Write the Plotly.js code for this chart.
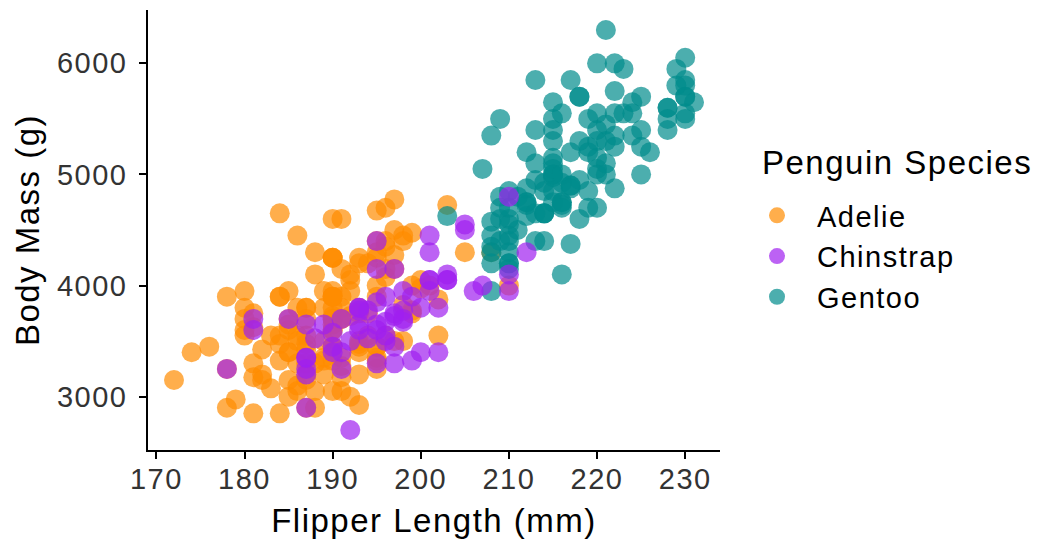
<!DOCTYPE html>
<html>
<head>
<meta charset="utf-8">
<script src="https://cdn.plot.ly/plotly-3.0.1.min.js"></script>
<style>
  html, body { margin: 0; padding: 0; background: #fff; }
  #chart { width: 1041px; height: 543px; }
  text { letter-spacing: 1.5px; }
</style>
</head>
<body>
<div id="chart"></div>
<script>
// Palmer penguins: flipper length (mm) and body mass (g)
const adelieFlipper = [181,186,195,193,190,181,195,193,190,186,180,182,191,198,185,195,197,184,194,174,180,189,185,180,187,183,187,172,180,178,178,188,184,195,196,190,180,181,184,182,195,186,196,185,190,182,179,190,191,186,188,190,200,187,191,186,193,181,194,185,195,185,192,184,192,195,188,190,198,190,190,196,197,190,195,191,184,187,195,189,196,187,193,191,194,190,189,189,190,202,205,185,186,187,208,190,196,178,192,192,203,183,190,193,184,199,190,181,197,198,191,193,197,191,196,188,199,189,189,187,198,176,202,186,199,191,195,191,210,190,197,193,199,187,190,191,200,185,193,193,187,188,190,192,185,190,184,195,193,187,201];
const adelieMass = [3750,3800,3250,3450,3650,3625,4675,3475,4250,3300,3700,3200,3800,4400,3700,3450,4500,3325,4200,3400,3600,3800,3950,3800,3800,3550,3200,3150,3950,3250,3900,3300,3900,3325,4150,3950,3550,3300,4650,3150,3900,3100,4400,3000,4600,3425,2975,3450,4150,3500,4300,3450,4050,2900,3700,3550,3800,2850,3750,3150,4400,3600,4050,2850,3950,3350,4100,3050,4450,3600,3900,3550,4150,3700,4250,3700,3900,3550,4000,3200,4700,3800,4200,3350,3550,3800,3500,3950,3600,3550,4300,3400,4450,3300,4300,3700,4350,2900,4100,3725,4725,3075,4250,2925,3550,3750,3900,3175,4775,3825,4600,3200,4275,3900,4075,2900,3775,3350,3325,3150,3500,3450,3875,3050,4000,3275,4300,3050,4000,3325,3500,3500,4475,3425,3900,3175,3975,3400,4250,3400,3475,3050,3725,3000,3650,4250,3475,3450,3750,3700,4000];

const gentooFlipper = [211,230,210,218,215,210,211,219,209,215,214,216,214,213,210,217,210,221,209,222,218,215,213,215,215,215,216,215,210,220,222,209,207,230,220,220,213,219,208,208,208,225,210,216,222,217,210,225,213,215,210,220,210,225,217,220,208,220,208,224,208,221,214,231,219,230,214,229,220,223,216,221,221,217,216,230,209,220,215,223,212,221,212,224,212,228,218,218,212,230,218,228,212,224,214,226,216,222,203,225,219,228,215,228,216,215,210,219,208,209,216,229,213,230,217,230,217,222,214,215,222,212,213];
const gentooMass = [4500,5700,4450,5700,5400,4550,4800,5200,4400,5150,4650,5550,4650,5850,4200,5850,4150,6300,4800,5350,5700,5000,4400,5050,5000,5100,4100,5650,4600,5550,5250,4700,5050,6050,5150,5400,4950,5250,4350,5350,3950,5700,4300,4750,5550,4900,4200,5400,5100,5300,4850,5300,4400,5000,4900,5050,4300,5000,4450,5550,4200,5300,4400,5650,4700,5700,4650,5800,4700,5550,4750,5000,5100,5200,4700,5800,4600,6000,4750,5950,4625,5450,4725,5350,4750,5600,4600,5300,4875,5550,4950,5400,4750,5650,4850,5200,4925,4875,4625,5250,4850,5600,4975,5500,4725,5500,4700,5500,4575,5500,5000,5950,4650,5500,4375,5850,4875,6000,4925,4850,5750,5200,5400];

const chinstrapFlipper = [192,196,193,188,197,198,178,197,195,198,193,194,185,201,190,201,197,181,190,195,181,191,187,193,195,197,200,200,191,205,187,201,187,203,195,199,195,210,192,205,210,187,196,196,196,201,190,212,187,198,199,201,193,203,187,197,191,203,202,194,206,189,195,207,202,193,210,198];
const chinstrapMass = [3500,3900,3650,3525,3725,3950,3250,3750,4150,3700,3800,3775,3700,4050,3575,4050,3300,3700,3450,4400,3600,3400,2900,3800,3300,4150,3400,3800,3700,4550,3200,4300,3350,4100,3600,3900,3850,4800,2700,4500,3950,3650,3550,3500,3675,4450,3400,4300,3250,3675,3325,3950,3600,4050,3350,3450,3250,4050,3800,3525,3950,3650,3650,4000,3400,3775,4100,3775];

const speciesNames = ["Adelie", "Chinstrap", "Gentoo"];
const speciesColors = ["#FF8C00", "#A020F0", "#008B8B"];
const legendTitle = "Penguin Species";
const xTicks = [170, 180, 190, 200, 210, 220, 230];
const yTicks = [3000, 4000, 5000, 6000];

const FONT = "'Liberation Sans', Arial, Helvetica, sans-serif";
const TICK_COLOR = "#333333";

function makeTrace(name, color, xs, ys, rank) {
  return {
    type: "scatter", mode: "markers", name: name,
    x: xs, y: ys, legendrank: rank,
    marker: { color: color, size: 20, opacity: 0.7, line: { width: 0 } },
    hovertemplate: name + "<br>%{x} mm, %{y} g<extra></extra>"
  };
}

// draw order follows the dataset: Adelie, Gentoo, Chinstrap
const data = [
  makeTrace(speciesNames[0], speciesColors[0], adelieFlipper, adelieMass, 1),
  makeTrace(speciesNames[2], speciesColors[2], gentooFlipper, gentooMass, 3),
  makeTrace(speciesNames[1], speciesColors[1], chinstrapFlipper, chinstrapMass, 2)
];

const allX = adelieFlipper.concat(gentooFlipper, chinstrapFlipper);
const allY = adelieMass.concat(gentooMass, chinstrapMass);
function expanded(arr) {
  const lo = Math.min(...arr), hi = Math.max(...arr), pad = (hi - lo) * 0.05;
  return [lo - pad, hi + pad];
}

const axisCommon = {
  showgrid: false, zeroline: false,
  showline: true, linecolor: "#000", linewidth: 1.6,
  ticks: "outside", ticklen: 7, tickwidth: 1.6, tickcolor: "#000",
  tickfont: { family: FONT, size: 29, color: TICK_COLOR },
  automargin: false, fixedrange: true
};

const layout = {
  width: 1041, height: 543,
  margin: { l: 148, r: 321, t: 10, b: 93, pad: 0 },
  paper_bgcolor: "#fff", plot_bgcolor: "#fff",
  font: { family: FONT, color: "#000" },
  xaxis: Object.assign({}, axisCommon, {
    range: expanded(allX), tickvals: xTicks, ticktext: xTicks.map(String),
    ticklabelstandoff: -5,
    title: { text: "Flipper Length (mm)", font: { family: FONT, size: 33, color: "#000" }, standoff: 15 }
  }),
  yaxis: Object.assign({}, axisCommon, {
    range: expanded(allY), tickvals: yTicks, ticktext: yTicks.map(String),
    ticklabelstandoff: 6,
    title: { text: "Body Mass (g)", font: { family: FONT, size: 33, color: "#000" }, standoff: 7 }
  }),
  showlegend: true,
  legend: {
    xref: "container", yref: "container",
    x: 737 / 1041, xanchor: "left",
    y: 1 - 190 / 543, yanchor: "top",
    bgcolor: "rgba(0,0,0,0)", borderwidth: 0,
    font: { family: FONT, size: 29, color: "#000" },
    itemwidth: 70, itemsizing: "trace", tracegroupgap: 0
  },
  annotations: [{
    text: legendTitle, showarrow: false,
    xref: "paper", yref: "paper",
    x: (760 - 148) / 572, xanchor: "left",
    y: 1 - (163 - 10) / 440, yanchor: "middle",
    font: { family: FONT, size: 33, color: "#000" }
  }]
};

Plotly.newPlot("chart", data, layout, { displayModeBar: false, responsive: false });
</script>
</body>
</html>
